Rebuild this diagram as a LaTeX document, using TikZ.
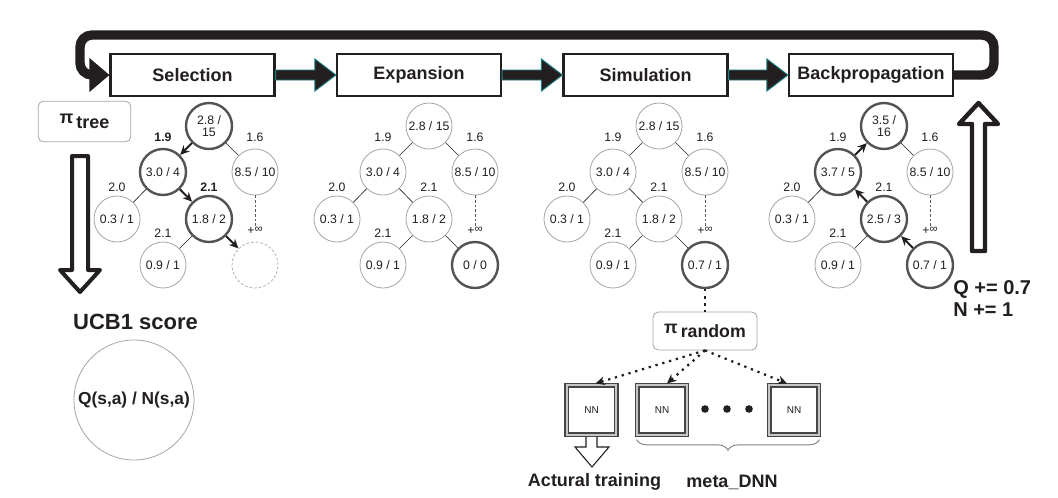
\documentclass[tikz,border=0pt]{standalone}
\usepackage{fontspec}
\setmainfont{Liberation Sans}
\usetikzlibrary{arrows.meta,calc,decorations.pathreplacing}
\definecolor{ink}{HTML}{231F20}
\definecolor{tealb}{HTML}{1E7F80}
\newcommand\procarrow[2]{\filldraw[parr] ($(#1.east)+(0,-5)$) -- ($(#2.west)+(-21,-5)$) -- ($(#2.west)+(-21,-16)$) -- (#2.west) -- ($(#2.west)+(-21,16)$) -- ($(#2.west)+(-21,5)$) -- ($(#1.east)+(0,5)$) -- cycle;}
\newcommand\pinf{+\raisebox{0.25ex}{\fontsize{8.5}{9}\selectfont ∞}}
\tikzset{
 tn/.style={circle, draw=gray!70, line width=0.6pt, minimum size=34.5pt, inner sep=0pt, font=\fontsize{9.2}{10}\selectfont, text=ink, align=center},
 thk/.style={tn, draw=gray!65!black, line width=1.8pt},
 lbl/.style={font=\fontsize{9.2}{10}\selectfont, text=ink, inner sep=0pt},
 blbl/.style={lbl, font=\fontsize{9.2}{10}\selectfont\bfseries},
 edg/.style={draw=ink, line width=0.5pt},
 dedg/.style={draw=gray!70!black, line width=0.6pt, dash pattern=on 2pt off 1.5pt},
 sarr/.style={draw=ink, line width=1.5pt, -{Stealth[length=7pt,width=6.5pt]}},
 proc/.style={draw=ink, line width=1.6pt, fill=white, minimum width=123pt, minimum height=31pt, inner sep=0pt, font=\fontsize{13.5}{15}\selectfont\bfseries, text=ink},
 parr/.style={fill=ink, draw=tealb, line width=0.7pt},
 loopl/.style={draw=ink, line width=7pt, rounded corners=9pt},
 rbox/.style={draw=gray!70, line width=0.6pt, rounded corners=4pt, fill=white, inner sep=0pt, text=ink},
 hollow/.style={draw=ink, fill=white, line width=3pt, line join=round},
 nnbox/.style={draw=gray!55!black, double=gray!45, double distance=1.3pt, line width=1.3pt, minimum size=37pt, inner sep=0pt, font=\fontsize{7.5}{8}\selectfont, text=ink},
 dotarr/.style={draw=ink, line width=1.7pt, dash pattern=on 1.7pt off 3.6pt, -{Stealth[length=7pt,width=6.5pt]}},
 dotl/.style={draw=ink, line width=1.7pt, dash pattern=on 1.7pt off 3.6pt},
 bigtxt/.style={font=\fontsize{13.5}{15}\selectfont\bfseries, text=ink, inner sep=0pt},
}
\begin{document}
\begin{tikzpicture}[x=0.75pt, y=-0.75pt]
\useasboundingbox[fill=white] (0,0) rectangle (1058,497);

% process boxes
\node[proc] (sel) at (192.5,75) {Selection};
\node[proc] (exp) at (419,75) {Expansion};
\node[proc] (sim) at (645.5,75) {Simulation};
\node[proc] (bp)  at (871,75) {Backpropagation};
\procarrow{sel}{exp}
\procarrow{exp}{sim}
\procarrow{sim}{bp}

% loop
\coordinate (lp1) at (994,75);
\coordinate (lp2) at (994,35);
\coordinate (lp3) at (80,35);
\coordinate (lp4) at (80,75);
\coordinate (lp5) at (94,75);
\draw[loopl] (bp.east) -- (lp1) -- (lp2) -- (lp3) -- (lp4) -- (lp5);
\fill[ink] ($(sel.west)+(-20,-17)$) -- (sel.west) -- ($(sel.west)+(-20,17)$) -- cycle;

% pi tree box and arrow
\node[rbox, minimum width=69.5pt, minimum height=30.5pt, font=\fontsize{13.5}{15}\selectfont\bfseries] (pt) at (84.5,121.5) {π\raisebox{-0.5ex}{\,tree}};
\draw[hollow] (72,156) -- (88,156) -- (88,270) -- (100,270) -- (80,292) -- (60,270) -- (72,270) -- cycle;
\node[font=\fontsize{16.5}{18}\selectfont\bfseries, text=ink, inner sep=0pt] (ucb) at (135.5,322) {UCB1 score};
\node[circle, draw=gray!70, line width=0.6pt, minimum size=90pt, inner sep=0pt, font=\fontsize{13}{14}\selectfont\bfseries, text=ink] (qn) at (134,400) {Q(s,a) / N(s,a)};

% ---------- tree 1: selection
\begin{scope}[shift={(209,0)}]
\node[thk] (a0) at (0,126) {2.8 /\\[-1pt]15};
\node[thk] (a1) at (-46,172) {3.0 / 4};
\node[tn]  (a2) at (46,172) {8.5 / 10};
\node[tn]  (a3) at (-92,219) {0.3 / 1};
\node[thk] (a4) at (0,219) {1.8 / 2};
\node[tn]  (a5) at (-46,265) {0.9 / 1};
\node[tn, draw=gray!60, dash pattern=on 2pt off 1.5pt] (a6) at (46,265) {};
\node[blbl] (a1l) at (-46,137) {1.9};
\node[lbl]  (a2l) at (46,137) {1.6};
\node[lbl]  (a3l) at (-92,187) {2.0};
\node[blbl] (a4l) at (0,187) {2.1};
\node[lbl]  (a5l) at (-46,233) {2.1};
\node[lbl]  (a6l) at (46,231) {\pinf};
\end{scope}
\draw[sarr] (a0) -- (a1);
\draw[sarr] (a1) -- (a4);
\draw[sarr] (a4) -- (a6);
\draw[edg] (a0) -- (a2);
\draw[edg] (a1) -- (a3);
\draw[edg] (a4) -- (a5);
\draw[dedg] (a2) -- (a6l);

% ---------- tree 2: expansion
\begin{scope}[shift={(429,0)}]
\node[tn]  (b0) at (0,126) {2.8 / 15};
\node[tn]  (b1) at (-46,172) {3.0 / 4};
\node[tn]  (b2) at (46,172) {8.5 / 10};
\node[tn]  (b3) at (-92,219) {0.3 / 1};
\node[tn]  (b4) at (0,219) {1.8 / 2};
\node[tn]  (b5) at (-46,265) {0.9 / 1};
\node[thk] (b6) at (46,265) {0 / 0};
\node[lbl] (b1l) at (-46,137) {1.9};
\node[lbl] (b2l) at (46,137) {1.6};
\node[lbl] (b3l) at (-92,187) {2.0};
\node[lbl] (b4l) at (0,187) {2.1};
\node[lbl] (b5l) at (-46,233) {2.1};
\node[lbl] (b6l) at (46,231) {\pinf};
\end{scope}
\draw[edg] (b0) -- (b1);
\draw[edg] (b0) -- (b2);
\draw[edg] (b1) -- (b3);
\draw[edg] (b1) -- (b4);
\draw[edg] (b4) -- (b5);
\draw[edg] (b4) -- (b6);
\draw[dedg] (b2) -- (b6l);

% ---------- tree 3: simulation
\begin{scope}[shift={(659,0)}]
\node[tn]  (c0) at (0,126) {2.8 / 15};
\node[tn]  (c1) at (-46,172) {3.0 / 4};
\node[tn]  (c2) at (46,172) {8.5 / 10};
\node[tn]  (c3) at (-92,219) {0.3 / 1};
\node[tn]  (c4) at (0,219) {1.8 / 2};
\node[tn]  (c5) at (-46,265) {0.9 / 1};
\node[thk] (c6) at (46,265) {0.7 / 1};
\node[lbl] (c1l) at (-46,137) {1.9};
\node[lbl] (c2l) at (46,137) {1.6};
\node[lbl] (c3l) at (-92,187) {2.0};
\node[lbl] (c4l) at (0,187) {2.1};
\node[lbl] (c5l) at (-46,233) {2.1};
\node[lbl] (c6l) at (46,231) {\pinf};
\end{scope}
\draw[edg] (c0) -- (c1);
\draw[edg] (c0) -- (c2);
\draw[edg] (c1) -- (c3);
\draw[edg] (c1) -- (c4);
\draw[edg] (c4) -- (c5);
\draw[edg] (c4) -- (c6);
\draw[dedg] (c2) -- (c6l);

% ---------- tree 4: backpropagation
\begin{scope}[shift={(884,0)}]
\node[thk] (d0) at (0,126) {3.5 /\\[-1pt]16};
\node[thk] (d1) at (-46,172) {3.7 / 5};
\node[tn]  (d2) at (46,172) {8.5 / 10};
\node[tn]  (d3) at (-92,219) {0.3 / 1};
\node[thk] (d4) at (0,219) {2.5 / 3};
\node[tn]  (d5) at (-46,265) {0.9 / 1};
\node[thk] (d6) at (46,265) {0.7 / 1};
\node[lbl] (d1l) at (-46,137) {1.9};
\node[lbl] (d2l) at (46,137) {1.6};
\node[lbl] (d3l) at (-92,187) {2.0};
\node[lbl] (d4l) at (0,187) {2.1};
\node[lbl] (d5l) at (-46,233) {2.1};
\node[lbl] (d6l) at (46,231) {\pinf};
\end{scope}
\draw[sarr] (d6) -- (d4);
\draw[sarr] (d4) -- (d1);
\draw[sarr] (d1) -- (d0);
\draw[edg] (d0) -- (d2);
\draw[edg] (d1) -- (d3);
\draw[edg] (d4) -- (d5);
\draw[dedg] (d2) -- (d6l);

% backprop hollow arrow and text
\draw[hollow, line width=3.3pt] (972,251) -- (972,124) -- (959,124) -- (978.5,103) -- (998,124) -- (985,124) -- (985,251) -- cycle;
\node[font=\fontsize{15}{17}\selectfont\bfseries, text=ink, align=left, anchor=west, inner sep=0pt] (qt) at (953,298.5) {Q += 0.7\\N += 1};

% simulation: random policy and networks
\node[rbox, minimum width=78pt, minimum height=28.5pt, font=\fontsize{13.3}{15}\selectfont\bfseries] (pr) at (705,331) {π\raisebox{-0.5ex}{\,random}};
\draw[dotl] (c6) -- (pr);
\node[nnbox] (nn1) at (591.5,410) {NN};
\node[nnbox] (nn2) at (662,410) {NN};
\node[nnbox] (nn3) at (794,410) {NN};
\draw[dotarr] (pr.south) -- ($(nn1.north)+(4,-1)$);
\draw[dotarr] (pr.south) -- ($(nn2.north)+(5,-1)$);
\draw[dotarr] (pr.south) -- ($(nn3.north)+(-7,-1)$);
\fill[ink] (705,409) circle (3.8);
\fill[ink] (727,409) circle (3.8);
\fill[ink] (749,409) circle (3.8);
\draw[gray, line width=0.7pt, decorate, decoration={brace, mirror, amplitude=8pt}] ($(nn2.south west)+(0,4)$) -- ($(nn3.south east)+(0,4)$);
\draw[draw=ink, fill=white, line width=0.8pt] (586,437) -- (586,447) -- (575,447) -- (592,467) -- (609,447) -- (597,447) -- (597,437);
\node[bigtxt] (act) at (594.5,482) {Actural training};
\node[bigtxt] (md) at (732,482) {meta\_DNN};
\end{tikzpicture}
\end{document}
